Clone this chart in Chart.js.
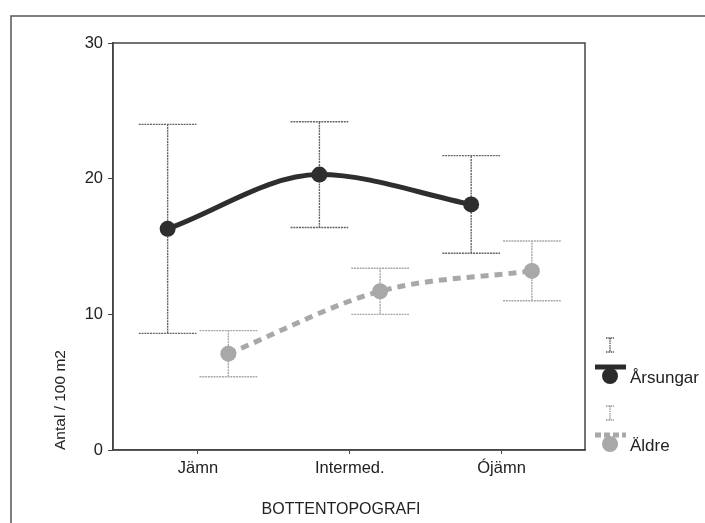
<!DOCTYPE html>
<html>
<head>
<meta charset="utf-8">
<script src="https://cdn.jsdelivr.net/npm/chart.js@4"></script>
<style>
  html, body { margin: 0; padding: 0; background: #fff; }
  #wrap { width: 705px; height: 523px; }
</style>
</head>
<body>
<div id="wrap"><canvas id="chart" width="705" height="523"></canvas></div>
<script>
// values
const categories = ['Jämn', 'Intermed.', 'Ójämn'];
const yTicks = [0, 10, 20, 30];

const arsMean = [16.3, 20.3, 18.1];
const arsUpper = [24.0, 24.2, 21.7];
const arsLower = [8.6, 16.4, 14.5];

const aldMean = [7.1, 11.7, 13.2];
const aldUpper = [8.8, 13.4, 15.4];
const aldLower = [5.4, 10.0, 11.0];

const dodge = 0.2;   // groups sit left/right of each category tick
const capHalf = 0.19;

const FONT = '"Liberation Sans", Arial, Helvetica, sans-serif';

function toPoints(values, shift) {
    return values.map((v, i) => ({ x: i + shift, y: v }));
}

const errorBars = [
    { lower: arsLower, upper: arsUpper, shift: -dodge, color: '#666' },
    { lower: aldLower, upper: aldUpper, shift: dodge, color: '#a8a8a8' }
];

// error bars are drawn through the chart scales
const errorBarPlugin = {
    id: 'errorBars',
    beforeDatasetsDraw(chart) {
        const ctx = chart.ctx;
        const xs = chart.scales.x;
        const ys = chart.scales.y;
        ctx.save();
        ctx.lineWidth = 1.4;
        ctx.setLineDash([2, 0.8]);
        errorBars.forEach(bar => {
            ctx.strokeStyle = bar.color;
            bar.lower.forEach((lo, i) => {
                const hi = bar.upper[i];
                const x = xs.getPixelForValue(i + bar.shift);
                const xl = xs.getPixelForValue(i + bar.shift - capHalf);
                const xr = xs.getPixelForValue(i + bar.shift + capHalf);
                const yl = ys.getPixelForValue(lo);
                const yh = ys.getPixelForValue(hi);
                ctx.beginPath();
                ctx.moveTo(x, yl); ctx.lineTo(x, yh);
                ctx.moveTo(xl, yh); ctx.lineTo(xr, yh);
                ctx.moveTo(xl, yl); ctx.lineTo(xr, yl);
                ctx.stroke();
            });
        });
        ctx.restore();
    }
};

// plot box, outer frame, x title and the hand made legend on the right
const decorPlugin = {
    id: 'decor',
    afterDraw(chart) {
        const ctx = chart.ctx;
        const a = chart.chartArea;
        ctx.save();
        ctx.strokeStyle = '#444';
        ctx.lineWidth = 1.5;
        ctx.strokeRect(a.left, a.top, a.right - a.left, a.bottom - a.top);

        ctx.strokeStyle = '#555';
        ctx.lineWidth = 1.5;
        ctx.beginPath();
        ctx.moveTo(11, 530); ctx.lineTo(11, 16); ctx.lineTo(710, 16);
        ctx.stroke();

        ctx.fillStyle = '#222';
        ctx.font = '16px ' + FONT;
        ctx.textAlign = 'center';
        ctx.textBaseline = 'middle';
        ctx.fillText('BOTTENTOPOGRAFI', 341, 510);

        function ibar(x, y1, y2, color) {
            ctx.save();
            ctx.strokeStyle = color;
            ctx.lineWidth = 1.3;
            ctx.setLineDash([1.5, 0.8]);
            ctx.beginPath();
            ctx.moveTo(x, y1); ctx.lineTo(x, y2);
            ctx.moveTo(x - 4, y1); ctx.lineTo(x + 4, y1);
            ctx.moveTo(x - 4, y2); ctx.lineTo(x + 4, y2);
            ctx.stroke();
            ctx.restore();
        }
        function item(y, color, dash, label) {
            ctx.save();
            ctx.strokeStyle = color;
            ctx.lineWidth = 5;
            ctx.setLineDash(dash);
            ctx.beginPath();
            ctx.moveTo(595, y); ctx.lineTo(626, y);
            ctx.stroke();
            ctx.setLineDash([]);
            ctx.fillStyle = color;
            ctx.beginPath();
            ctx.arc(610, y + 9, 8, 0, Math.PI * 2);
            ctx.fill();
            ctx.fillStyle = '#222';
            ctx.font = '17px ' + FONT;
            ctx.textAlign = 'left';
            ctx.textBaseline = 'middle';
            ctx.fillText(label, 630, y + 11);
            ctx.restore();
        }
        ibar(610, 338, 352, '#555');
        item(367, '#2b2b2b', [], 'Årsungar');
        ibar(610, 406, 420, '#999');
        item(435, '#a8a8a8', [6, 3], 'Äldre');
        ctx.restore();
    }
};

new Chart(document.getElementById('chart'), {
    type: 'scatter',
    data: {
        datasets: [
            {
                label: 'Årsungar',
                data: toPoints(arsMean, -dodge),
                showLine: true,
                borderColor: '#2e2e2e',
                backgroundColor: '#2e2e2e',
                borderWidth: 5,
                cubicInterpolationMode: 'monotone',
                pointRadius: 8,
                pointHoverRadius: 8,
                pointBorderWidth: 0
            },
            {
                label: 'Äldre',
                data: toPoints(aldMean, dodge),
                showLine: true,
                borderColor: '#a8a8a8',
                backgroundColor: '#a8a8a8',
                borderWidth: 5,
                borderDash: [8, 6],
                cubicInterpolationMode: 'monotone',
                pointRadius: 8,
                pointHoverRadius: 8,
                pointBorderWidth: 0
            }
        ]
    },
    options: {
        responsive: false,
        animation: false,
        layout: { padding: { left: 13, right: 120, top: 43, bottom: 0 } },
        plugins: {
            legend: { display: false },
            tooltip: { enabled: false }
        },
        scales: {
            x: {
                type: 'linear',
                min: -0.56,
                max: 2.55,
                afterBuildTicks: scale => {
                    scale.ticks = categories.map((c, i) => ({ value: i }));
                },
                afterFit: scale => { scale.height = 73; },
                grid: { drawOnChartArea: false, tickLength: 4, color: '#444' },
                border: { display: true, color: '#444', width: 1.5 },
                ticks: {
                    padding: 5,
                    color: '#222',
                    font: { family: FONT, size: 16.5 },
                    callback: v => categories[v]
                }
            },
            y: {
                min: 0,
                max: 30,
                afterBuildTicks: scale => {
                    scale.ticks = yTicks.map(v => ({ value: v }));
                },
                afterFit: scale => { scale.width = 100; },
                grid: { drawOnChartArea: false, tickLength: 5, color: '#444' },
                border: { display: true, color: '#444', width: 1.5 },
                ticks: {
                    padding: 5,
                    color: '#222',
                    font: { family: FONT, size: 16.5 }
                },
                title: {
                    display: true,
                    text: 'Antal / 100 m2',
                    align: 'start',
                    color: '#222',
                    font: { family: FONT, size: 15.5 },
                    padding: { top: 38, bottom: 0 }
                }
            }
        }
    },
    plugins: [errorBarPlugin, decorPlugin]
});
</script>
</body>
</html>
